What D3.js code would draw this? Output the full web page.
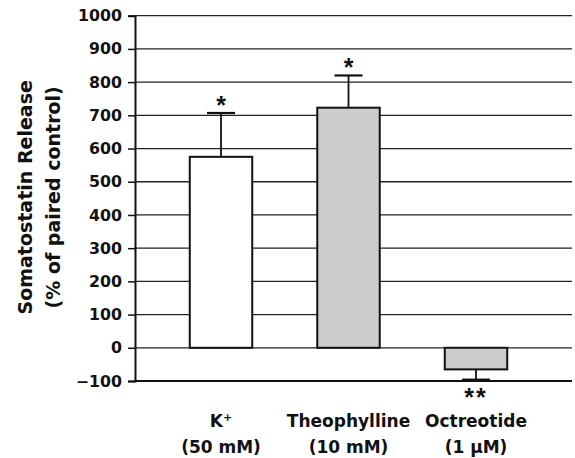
<!DOCTYPE html>
<html>
<head>
<meta charset="utf-8">
<script src="https://cdn.jsdelivr.net/npm/d3@7"></script>
<style>
    body { margin: 0; background: #fff; }
    svg text { font-family: "DejaVu Sans", sans-serif; font-weight: bold; fill: #111; }
</style>
</head>
<body>
<svg id="chart"></svg>
<script>
var categories = ['K+', 'Theophylline', 'Octreotide'];
var labelLine1 = [['K', '+'], ['Theophylline'], ['Octreotide']];
var labelLine2 = ['(50 mM)', '(10 mM)', '(1 \u00b5M)'];
var values = [575, 723, -65];
var errors = [132, 97, 31];
var stars = ['*', '*', '**'];
var fills = ['#ffffff', '#cccccc', '#cccccc'];
var yTicks = [-100, 0, 100, 200, 300, 400, 500, 600, 700, 800, 900, 1000];

(function () {
    var width = 575, height = 458;
    var plotLeft = 135, plotRight = 572, plotTop = 15.7, plotBottom = 381;

    var svg = d3.select('#chart').attr('width', width).attr('height', height);

    var x = d3.scaleBand()
        .domain(categories)
        .range([157.25, 539.75])
        .paddingInner(0.51)
        .paddingOuter(0.255);

    var y = d3.scaleLinear()
        .domain([-100, 1000])
        .range([plotBottom, plotTop]);

    // gridlines
    svg.append('g')
        .selectAll('line')
        .data(yTicks.filter(function (d) { return d > -100; }))
        .enter().append('line')
        .attr('x1', plotLeft).attr('x2', plotRight)
        .attr('y1', function (d) { return y(d); })
        .attr('y2', function (d) { return y(d); })
        .attr('stroke', '#222')
        .attr('stroke-width', 1.3);

    // y axis
    var yAxis = svg.append('g')
        .attr('transform', 'translate(' + plotLeft + ',0)')
        .call(d3.axisLeft(y).tickValues(yTicks).tickSize(7).tickPadding(6)
            .tickFormat(function (d) { return d < 0 ? '\u2212' + Math.abs(d) : d; }));
    yAxis.select('.domain').attr('stroke', '#111').attr('stroke-width', 2);
    yAxis.selectAll('.tick line').attr('stroke', '#111').attr('stroke-width', 1.5);
    yAxis.selectAll('.tick text').attr('font-size', 15.8).attr('fill', '#111')
        .style('font-family', '"DejaVu Sans", sans-serif').style('font-weight', 'bold');

    // bottom line at -100
    svg.append('line')
        .attr('x1', plotLeft - 1).attr('x2', plotRight)
        .attr('y1', y(-100)).attr('y2', y(-100))
        .attr('stroke', '#111').attr('stroke-width', 2.2);

    var rows = categories.map(function (c, i) {
        return { cat: c, value: values[i], err: errors[i], star: stars[i], fill: fills[i] };
    });

    // error bars (drawn under bars)
    var capW = 28;
    rows.forEach(function (d) {
        var cx = x(d.cat) + x.bandwidth() / 2;
        var end = d.value >= 0 ? d.value + d.err : d.value - d.err;
        svg.append('line')
            .attr('x1', cx).attr('x2', cx)
            .attr('y1', y(d.value)).attr('y2', y(end))
            .attr('stroke', '#111').attr('stroke-width', 1.8);
        svg.append('line')
            .attr('x1', cx - capW / 2).attr('x2', cx + capW / 2)
            .attr('y1', y(end)).attr('y2', y(end))
            .attr('stroke', '#111').attr('stroke-width', 2.2);
        svg.append('text')
            .attr('x', cx)
            .attr('y', d.value >= 0 ? y(end) + 0.5 : y(end) + 26)
            .attr('text-anchor', 'middle')
            .attr('font-size', 25)
            .attr('letter-spacing', d.star.length > 1 ? 2 : 0)
            .style('font-family', '"Liberation Sans", Arial, sans-serif')
            .text(d.star);
    });

    // bars
    svg.append('g')
        .selectAll('rect')
        .data(rows)
        .enter().append('rect')
        .attr('x', function (d) { return x(d.cat); })
        .attr('width', x.bandwidth())
        .attr('y', function (d) { return y(Math.max(0, d.value)); })
        .attr('height', function (d) { return Math.abs(y(d.value) - y(0)); })
        .attr('fill', function (d) { return d.fill; })
        .attr('stroke', '#111')
        .attr('stroke-width', 2);

    // category labels
    categories.forEach(function (c, i) {
        var cx = x(c) + x.bandwidth() / 2;
        var t1 = svg.append('text')
            .attr('x', cx).attr('y', 427)
            .attr('text-anchor', 'middle')
            .attr('font-size', 17);
        t1.append('tspan').text(labelLine1[i][0]);
        if (labelLine1[i][1]) {
            t1.append('tspan').attr('font-size', 11).attr('dy', -6).text(labelLine1[i][1]);
        }
        svg.append('text')
            .attr('x', cx).attr('y', 453)
            .attr('text-anchor', 'middle')
            .attr('font-size', 17)
            .text(labelLine2[i]);
    });

    // y title
    var title = svg.append('text')
        .attr('transform', 'translate(32,' + ((plotTop + plotBottom) / 2 - 1) + ') rotate(-90)')
        .attr('text-anchor', 'middle')
        .attr('font-size', 19);
    title.append('tspan').attr('x', 0).attr('dy', 0).text('Somatostatin Release');
    title.append('tspan').attr('x', 0).attr('dy', 28).text('(% of paired control)');
})();
</script>
</body>
</html>
